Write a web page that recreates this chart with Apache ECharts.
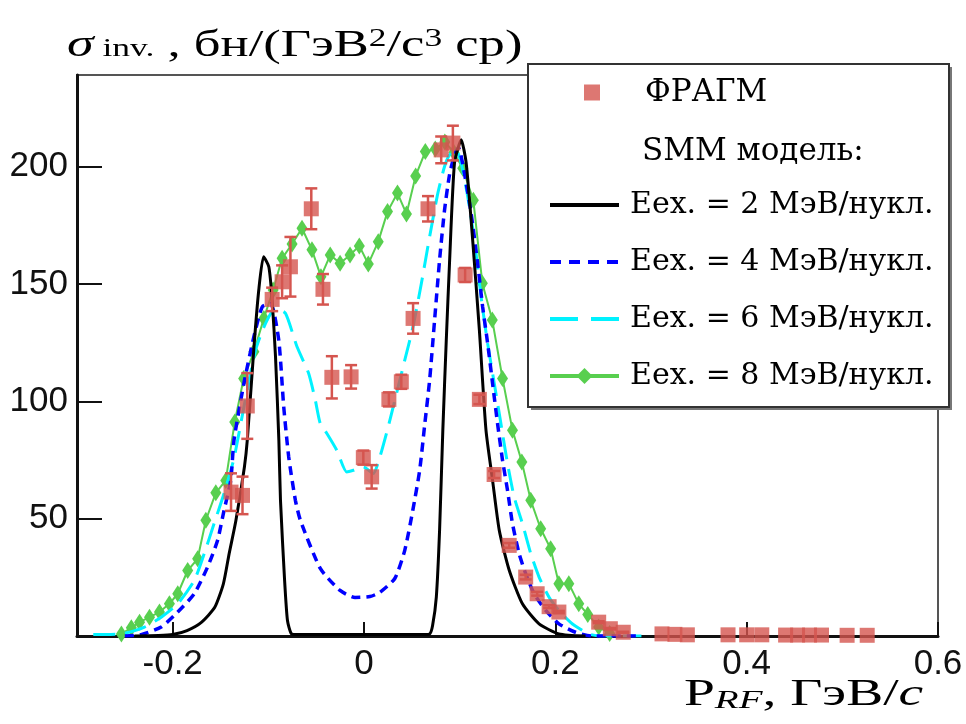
<!DOCTYPE html>
<html>
<head>
<meta charset="utf-8">
<script src="https://cdn.jsdelivr.net/npm/echarts@6/dist/echarts.min.js"></script>
<style>
  html, body { margin: 0; padding: 0; background: #fff; }
  #chart { width: 966px; height: 724px; }
</style>
</head>
<body>
<div id="chart"></div>
<script>
// ФРАГМ measurements: momentum, invariant cross section, error
const fragmX = [-0.139, -0.127, -0.122, -0.096, -0.0856, -0.0769, -0.0551, -0.0429, -0.0336, -0.0135,
  -0.0007, 0.008, 0.026, 0.039, 0.0513, 0.0669, 0.0807, 0.0929, 0.1057, 0.1206,
  0.136, 0.1518, 0.169, 0.181, 0.1935, 0.2037, 0.2453, 0.2575, 0.271, 0.3115,
  0.325, 0.338, 0.3805, 0.400, 0.4158, 0.4407, 0.4532, 0.4657, 0.4782, 0.505, 0.526];
const fragmY = [61.3, 59.9, 98.0, 143.4, 150.9, 157.3, 182.0, 147.7, 110.2, 110.4,
  76.0, 67.8, 100.8, 108.3, 135.3, 182.0, 207.1, 210.0, 153.8, 100.8,
  68.8, 38.6, 25.1, 18.0, 12.5, 10.2, 5.9, 3.1, 1.6, 0.9,
  0.7, 0.5, 0.5, 0.5, 0.5, 0.4, 0.4, 0.4, 0.4, 0.3, 0.3];
const fragmErr = [8, 8, 14, 5, 7, 12.7, 8.7, 6.5, 9, 5,
  3, 5, 3, 3, 6.5, 5.4, 5.7, 7.4, 3, 2,
  1.5, 1, 1, 0.8, 0.6, 0.5, 0.4, 0.3, 0.2, 0,
  0, 0, 0, 0, 0, 0, 0, 0, 0, 0, 0];

// SMM model, Eex. = 2 MeV/nucleon
const smm2X = [-0.24, -0.215, -0.2, -0.185, -0.17, -0.156, -0.147, -0.141, -0.134, -0.125,
  -0.122, -0.115, -0.11, -0.105, -0.0995, -0.096, -0.0925, -0.089, -0.0873, -0.083,
  -0.08, -0.076, -0.07, 0.06, 0.0686, 0.0717, 0.0756, 0.079, 0.0824, 0.086,
  0.0894, 0.0946, 0.1016, 0.1068, 0.1136, 0.1206, 0.1275, 0.1344, 0.1414, 0.1518,
  0.1656, 0.183, 0.2037, 0.2315];
const smm2Y = [0, 0.2, 0.6, 2.3, 5.8, 12.2, 22.2, 35, 49, 72,
  83.4, 123.2, 147.4, 161.6, 157.3, 143, 119, 83.4, 57.8, 23.7,
  6.6, 1.0, 0.6, 0.6, 0.9, 4.5, 16.6, 45, 87.7, 126,
  159, 201.6, 211.4, 201.5, 168.7, 130.3, 87.7, 66.3, 45, 28,
  13.7, 5.2, 0.9, 0];

// SMM model, Eex. = 4 MeV/nucleon
const smm4X = [-0.25, -0.233, -0.212, -0.1947, -0.1774, -0.1635, -0.1531, -0.1463, -0.1393, -0.1359,
  -0.1255, -0.1151, -0.1063, -0.0977, -0.0891, -0.0839, -0.0787, -0.0717, -0.0665, -0.0457,
  -0.025, -0.0094, 0.0062, 0.0166, 0.0322, 0.0426, 0.051, 0.0582, 0.0634, 0.0686,
  0.0738, 0.079, 0.0842, 0.0894, 0.0946, 0.0988, 0.105, 0.112, 0.1188, 0.124,
  0.1292, 0.1344, 0.1396, 0.1448, 0.15, 0.1552, 0.1622, 0.1691, 0.1778, 0.19,
  0.2037, 0.2211, 0.2384, 0.29];
const smm4Y = [0, 0.6, 3.8, 10.2, 18, 29.4, 40.7, 53.5, 66.3, 83.4,
  107.7, 127.5, 140.3, 141.7, 126, 97.6, 76.3, 57.8, 49.3, 28.8,
  19.4, 16.4, 16.8, 18.6, 24.5, 36.5, 53.5, 70.6, 89.8, 109,
  134.6, 160.2, 181.5, 196.5, 205, 208, 197, 180, 158.8, 140.3,
  124.8, 107.6, 90.5, 74.9, 62.1, 47.9, 35, 26.5, 18, 10.9,
  5.2, 1.6, 0, 0];

// SMM model, Eex. = 6 MeV/nucleon
const smm6X = [-0.283, -0.2536, -0.2294, -0.212, -0.1947, -0.1774, -0.167, -0.1567, -0.1463, -0.1359,
  -0.1255, -0.1133, -0.1029, -0.0925, -0.0821, -0.07, -0.0579, -0.0509, -0.0457, -0.0388,
  -0.0284, -0.018, -0.0111, -0.0007, 0.0097, 0.0166, 0.0253, 0.034, 0.0426, 0.0512,
  0.06, 0.0686, 0.0772, 0.0842, 0.0894, 0.0964, 0.1016, 0.1084, 0.1154, 0.1224,
  0.1292, 0.1362, 0.1431, 0.15, 0.157, 0.1656, 0.1743, 0.183, 0.1933, 0.2037,
  0.2176, 0.2349, 0.2471, 0.29];
const smm6Y = [0.6, 0.9, 3.8, 8, 13.7, 23.7, 35.1, 47.9, 60.7, 75.7,
  97.6, 121.8, 133.2, 139.6, 137.5, 123.2, 111.9, 100.5, 90.5, 86.3,
  79.1, 69.9, 70.6, 72, 69.2, 76.3, 89.1, 103.3, 117.5, 131.7,
  150.3, 170.1, 188.7, 200, 205, 207, 201.4, 187.2, 168.7, 144.5,
  124.7, 107.6, 90.5, 73.5, 59.2, 47.9, 35.1, 25.1, 16.6, 10.9,
  5.2, 0.9, 0, 0];

// SMM model, Eex. = 8 MeV/nucleon
const smm8X = [-0.2536, -0.2432, -0.2346, -0.2242, -0.2138, -0.2034, -0.1947, -0.1843, -0.1739, -0.1653,
  -0.1549, -0.1445, -0.1351, -0.1258, -0.1151, -0.1047, -0.095, -0.0856, -0.0752, -0.0648,
  -0.0544, -0.045, -0.0353, -0.025, -0.0146, -0.0049, 0.0045, 0.0149, 0.0246, 0.035,
  0.0444, 0.054, 0.0641, 0.0745, 0.0845, 0.094, 0.1032, 0.1143, 0.1237, 0.1341,
  0.1448, 0.1552, 0.165, 0.1743, 0.1847, 0.1951, 0.2037, 0.2141, 0.2245, 0.2339,
  0.2453, 0.2568];
const smm8Y = [0.9, 3.5, 5.9, 8, 10.2, 13.7, 18, 27.9, 32.9, 49.3,
  61, 66.3, 91.2, 109.7, 121.1, 135.3, 147.4, 160.9, 167, 173.7,
  164.5, 153.1, 162.3, 158.8, 162.3, 166.2, 158.5, 168, 180.8, 188.7,
  179.8, 196, 206.4, 207.5, 210.5, 206, 199.3, 185.6, 150.3, 134.6,
  109.7, 87.7, 74.1, 57.8, 45.7, 37.2, 22.3, 22.3, 13.7, 9.2,
  3.8, 1.1];

// Axis ticks
const xTicks = [-0.2, 0, 0.2, 0.4, 0.6];
const yTicks = [50, 100, 150, 200];

const zip = (xs, ys) => xs.map((x, i) => [x, ys[i]]);

const SERIF = "'DejaVu Serif', 'Liberation Serif', serif";
const CAPTION = "'Liberation Serif', 'DejaVu Serif', serif";
const SANS = "'Liberation Sans', Arial, sans-serif";
const RED = '#d5554f';
const GREEN = '#58cf4f';
const CYAN = '#00f2ff';
const BLUE = '#0000ff';

const names = {
  fragm: 'ФРАГМ',
  e2: 'Eex. = 2 МэВ/нукл.',
  e4: 'Eex. = 4 МэВ/нукл.',
  e6: 'Eex. = 6 МэВ/нукл.',
  e8: 'Eex. = 8 МэВ/нукл.'
};

// legend line samples: thicker strokes, no point marker for the smooth model curves
const lineOnly = (name, lineStyle) => ({ name, itemStyle: { opacity: 0 }, lineStyle });

const chart = echarts.init(document.getElementById('chart'), null, { renderer: 'canvas' });

chart.setOption({
  backgroundColor: '#fff',
  animation: false,
  grid: {
    left: 77, right: 28, top: 75, bottom: 88,
    outerBoundsMode: 'none',
    containLabel: false,
    show: true, borderColor: '#555', borderWidth: 2, backgroundColor: '#fff'
  },
  legend: [
    {
      data: [names.fragm],
      orient: 'vertical',
      left: 584, top: 77, padding: 0,
      itemWidth: 16, itemHeight: 16,
      textStyle: { fontFamily: SERIF, fontSize: 31, color: '#000', padding: [0, 0, 0, 40] },
      z: 20
    },
    {
      data: [
        lineOnly(names.e2, { color: '#000', width: 4, type: 'solid' }),
        lineOnly(names.e4, { color: BLUE, width: 4, type: [11, 8] }),
        lineOnly(names.e6, { color: CYAN, width: 4, type: [28, 13] }),
        { name: names.e8, lineStyle: { color: GREEN, width: 4 } }
      ],
      orient: 'vertical',
      left: 548, top: 190, padding: 0,
      itemWidth: 69, itemHeight: 20, itemGap: 27,
      textStyle: { fontFamily: SERIF, fontSize: 30, color: '#000', padding: [0, 0, 0, 6] },
      z: 20
    }
  ],
  graphic: [
    // y-axis caption
    {
      type: 'text', z: 20, silent: true,
      x: 67, y: 27, scaleX: 1.42, scaleY: 1,
      style: {
        text: '{s|σ}{i| inv.}{n| , бн/(ГэВ}{p|2}{n|/c}{p|3}{n| ср)}',
        fill: '#000',
        rich: {
          s: { fontFamily: CAPTION, fontStyle: 'italic', fontSize: 38, fill: '#000', verticalAlign: 'bottom' },
          i: { fontFamily: CAPTION, fontSize: 25, fill: '#000', verticalAlign: 'bottom', padding: [0, 0, 3, 0] },
          n: { fontFamily: CAPTION, fontSize: 37, fill: '#000', verticalAlign: 'bottom' },
          p: { fontFamily: CAPTION, fontSize: 25, fill: '#000', verticalAlign: 'top' }
        }
      }
    },
    // x-axis caption
    {
      type: 'text', z: 20, silent: true,
      x: 684, y: 677, scaleX: 1.5, scaleY: 1,
      style: {
        text: '{p|P}{s|RF}{n|, ГэВ/}{c|c}',
        fill: '#000',
        rich: {
          p: { fontFamily: CAPTION, fontSize: 37, fill: '#000', verticalAlign: 'bottom' },
          s: { fontFamily: CAPTION, fontStyle: 'italic', fontSize: 26, fill: '#000', verticalAlign: 'bottom' },
          n: { fontFamily: CAPTION, fontSize: 37, fill: '#000', verticalAlign: 'bottom' },
          c: { fontFamily: CAPTION, fontStyle: 'italic', fontSize: 37, fill: '#000', verticalAlign: 'bottom' }
        }
      }
    },
    // legend frame with shadow
    {
      type: 'rect', z: 10, silent: true,
      shape: { x: 531, y: 67, width: 421, height: 343 },
      style: { fill: '#777', stroke: null }
    },
    {
      type: 'rect', z: 11, silent: true,
      shape: { x: 528, y: 64, width: 421, height: 343 },
      style: { fill: '#fff', stroke: '#333', lineWidth: 2 }
    },
    {
      type: 'text', z: 20, silent: true,
      x: 642, y: 136,
      style: { text: 'SMM модель:', font: '31px ' + SERIF, fill: '#000' }
    }
  ],
  xAxis: {
    type: 'value',
    min: -0.3, max: 0.6,
    axisLine: { onZero: false, lineStyle: { color: '#111', width: 3 } },
    axisTick: { inside: true, length: 14, customValues: xTicks, lineStyle: { color: '#111', width: 2 } },
    axisLabel: {
      customValues: xTicks, margin: 11,
      fontFamily: SANS, fontSize: 35, color: '#111',
      formatter: v => (Math.abs(v) < 1e-9 ? '0' : String(Math.round(v * 10) / 10))
    },
    splitLine: { show: false }
  },
  yAxis: {
    type: 'value',
    min: 0, max: 239,
    axisLine: { onZero: false, lineStyle: { color: '#111', width: 3 } },
    axisTick: { inside: true, length: 25, customValues: yTicks, lineStyle: { color: '#111', width: 2 } },
    axisLabel: {
      customValues: yTicks, margin: 9,
      fontFamily: SANS, fontSize: 35, color: '#111'
    },
    splitLine: { show: false }
  },
  series: [
    {
      name: names.e8, type: 'line', z: 3,
      data: zip(smm8X, smm8Y),
      symbol: 'diamond', symbolSize: [11, 17], showAllSymbol: true,
      itemStyle: { color: GREEN },
      lineStyle: { color: GREEN, width: 2 }
    },
    {
      name: names.e6, type: 'line', z: 4,
      data: zip(smm6X, smm6Y),
      symbol: 'none', smooth: 0.2,
      itemStyle: { color: CYAN },
      lineStyle: { color: CYAN, width: 3, type: [22, 10] }
    },
    {
      name: names.e4, type: 'line', z: 5,
      data: zip(smm4X, smm4Y),
      symbol: 'none', smooth: 0.2,
      itemStyle: { color: BLUE },
      lineStyle: { color: BLUE, width: 3.5, type: [9, 6] }
    },
    {
      name: names.e2, type: 'line', z: 6,
      data: zip(smm2X, smm2Y),
      symbol: 'none', smooth: 0.2,
      itemStyle: { color: '#000' },
      lineStyle: { color: '#000', width: 3 }
    },
    {
      name: 'ФРАГМ погрешность', type: 'custom', z: 7,
      data: fragmX.map((x, i) => [x, fragmY[i], fragmErr[i]]),
      encode: { x: 0, y: 1 },
      renderItem: (params, api) => {
        const x = api.value(0), y = api.value(1), e = api.value(2);
        if (!(e > 0)) return null;
        const top = api.coord([x, y + e]);
        const bot = api.coord([x, y - e]);
        const hw = 6;
        const st = { stroke: RED, lineWidth: 2.5 };
        return {
          type: 'group',
          children: [
            { type: 'line', shape: { x1: top[0], y1: top[1], x2: bot[0], y2: bot[1] }, style: st },
            { type: 'line', shape: { x1: top[0] - hw, y1: top[1], x2: top[0] + hw, y2: top[1] }, style: st },
            { type: 'line', shape: { x1: bot[0] - hw, y1: bot[1], x2: bot[0] + hw, y2: bot[1] }, style: st }
          ]
        };
      }
    },
    {
      name: names.fragm, type: 'scatter', z: 8,
      data: zip(fragmX, fragmY),
      symbol: 'rect', symbolSize: 15,
      itemStyle: { color: RED }
    }
  ]
});
</script>
</body>
</html>
